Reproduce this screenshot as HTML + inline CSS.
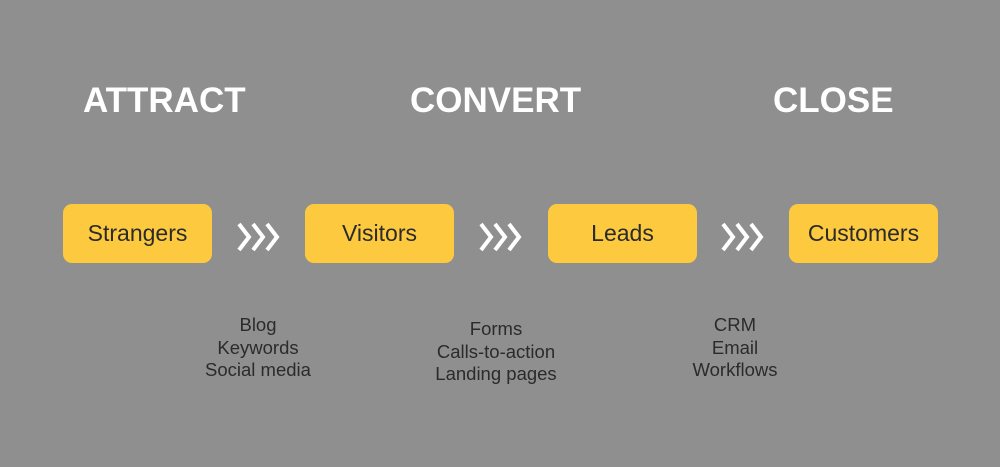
<!DOCTYPE html>
<html><head><style>
body{margin:0;width:1000px;height:467px;background:#8f8f8f;position:relative;overflow:hidden;font-family:"Liberation Sans",sans-serif}
.h{position:absolute;top:81px;color:#fff;font-weight:bold;font-size:35px}
.b{position:absolute;top:204px;width:149px;height:59px;background:#fdc93e;border-radius:9px;color:#2b2b2b;font-size:23px;display:flex;align-items:center;justify-content:center}
.t{position:absolute;color:#2b2b2b;font-size:18.5px;line-height:22.5px;text-align:center;width:200px}
svg{position:absolute;top:222px}
</style></head><body>
<div class="h" style="left:83px">ATTRACT</div>
<div class="h" style="left:410px">CONVERT</div>
<div class="h" style="left:773px">CLOSE</div>
<div class="b" style="left:63px">Strangers</div>
<div class="b" style="left:305px">Visitors</div>
<div class="b" style="left:548px">Leads</div>
<div class="b" style="left:789px">Customers</div>
<svg style="left:236px" width="48" height="30"><g fill="none" stroke="#fff" stroke-width="4"><path d="M3 2l10 13-10 13M17 2l10 13-10 13M31 2l10 13-10 13"/></g></svg>
<svg style="left:478px" width="48" height="30"><g fill="none" stroke="#fff" stroke-width="4"><path d="M3 2l10 13-10 13M17 2l10 13-10 13M31 2l10 13-10 13"/></g></svg>
<svg style="left:720px" width="48" height="30"><g fill="none" stroke="#fff" stroke-width="4"><path d="M3 2l10 13-10 13M17 2l10 13-10 13M31 2l10 13-10 13"/></g></svg>
<div class="t" style="left:158px;top:314px">Blog<br>Keywords<br>Social media</div>
<div class="t" style="left:396px;top:318px">Forms<br>Calls-to-action<br>Landing pages</div>
<div class="t" style="left:635px;top:314px">CRM<br>Email<br>Workflows</div>
</body></html>
